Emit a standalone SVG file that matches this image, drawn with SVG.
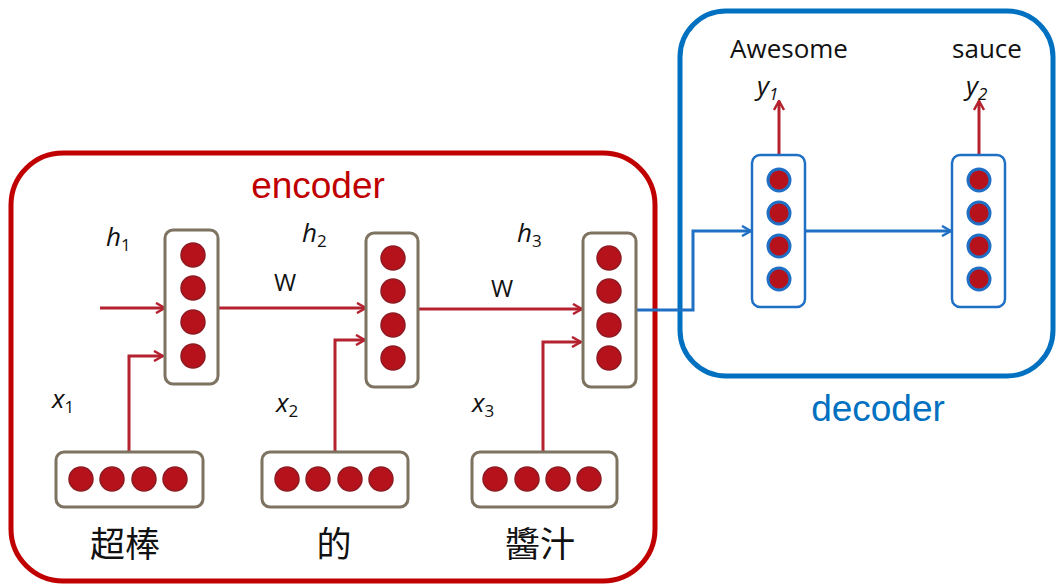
<svg xmlns="http://www.w3.org/2000/svg" width="1056" height="586" viewBox="0 0 1056 586">
<defs>
<style>
.frame{fill:none;stroke-width:5}
.hbox{fill:#fff;stroke:#7d7360;stroke-width:3}
.dbox{fill:#fff;stroke:#1f6fc4;stroke-width:2.5}
.c{fill:#b5121b;stroke:#8e1b22;stroke-width:1.5}
.dc{fill:#b5121b;stroke:#1f6fc4;stroke-width:3}
.rl{fill:none;stroke:#b3222e;stroke-width:3;marker-end:url(#ra)}
.bl{fill:none;stroke:#1f6fc4;stroke-width:3;marker-end:url(#ba)}
.lbl{font-family:"Open Sans","Liberation Sans",sans-serif;fill:#111}
.it{font-family:"Open Sans","Liberation Sans",sans-serif;font-style:italic;fill:#111;font-size:26px}
.zh{font-family:"Noto Sans CJK TC","Noto Sans CJK SC",sans-serif;font-size:35px;fill:#111;text-anchor:middle}
</style>
<marker id="ra" viewBox="0 0 12 12" refX="11" refY="6" markerWidth="12" markerHeight="12" markerUnits="userSpaceOnUse" orient="auto">
<path d="M2,1 L11,6 L2,11" fill="none" stroke="#b3222e" stroke-width="2.5"/>
</marker>
<marker id="ba" viewBox="0 0 12 12" refX="11" refY="6" markerWidth="12" markerHeight="12" markerUnits="userSpaceOnUse" orient="auto">
<path d="M2,1 L11,6 L2,11" fill="none" stroke="#1f6fc4" stroke-width="2.5"/>
</marker>
</defs>
<rect width="1056" height="586" fill="#fff"/>

<g id="encoder-frame">
<rect class="frame" x="11" y="153" width="644" height="428" rx="52" stroke="#c00000"/>
<text x="318" y="198" font-family="Liberation Sans, Arial, sans-serif" font-size="37" fill="#c00000" text-anchor="middle">encoder</text>
</g>
<g id="decoder-frame">
<rect class="frame" x="680" y="11" width="373" height="365" rx="46" stroke="#0070c0"/>
<text x="878" y="421" font-family="Liberation Sans, Arial, sans-serif" font-size="37" fill="#0070c0" text-anchor="middle">decoder</text>
</g>

<g id="connectors">
<path class="rl" d="M100,308 H165"/>
<path class="rl" d="M129,452 V356 H163"/>
<path class="rl" d="M219,308 H366"/>
<path class="rl" d="M335,452 V340 H365"/>
<path class="rl" d="M418,309 H582"/>
<path class="rl" d="M543,452 V342 H581"/>
<path class="bl" d="M636,310 H693 V231 H751"/>
<path class="bl" d="M805,231 H951"/>
<path class="rl" d="M779,155 V101"/>
<path class="rl" d="M979,155 V101"/>
<text class="lbl" x="274" y="291" font-size="24">W</text>
<text class="lbl" x="491" y="297" font-size="24">W</text>
</g>

<g id="h1">
<rect class="hbox" x="165" y="230" width="53" height="154" rx="8"/>
<circle class="c" cx="193" cy="255" r="12"/><circle class="c" cx="193" cy="288" r="12"/><circle class="c" cx="193" cy="322" r="12"/><circle class="c" cx="193" cy="356" r="12"/>
<text class="it" x="106" y="246">h<tspan font-size="17" font-style="normal" dy="5">1</tspan></text>
</g>
<g id="h2">
<rect class="hbox" x="366" y="233" width="52" height="154" rx="8"/>
<circle class="c" cx="393" cy="258" r="12"/><circle class="c" cx="393" cy="291" r="12"/><circle class="c" cx="393" cy="325" r="12"/><circle class="c" cx="393" cy="358" r="12"/>
<text class="it" x="302" y="242">h<tspan font-size="17" font-style="normal" dy="5">2</tspan></text>
</g>
<g id="h3">
<rect class="hbox" x="583" y="233" width="53" height="154" rx="8"/>
<circle class="c" cx="609" cy="258" r="12"/><circle class="c" cx="609" cy="291" r="12"/><circle class="c" cx="609" cy="325" r="12"/><circle class="c" cx="609" cy="358" r="12"/>
<text class="it" x="517" y="242">h<tspan font-size="17" font-style="normal" dy="5">3</tspan></text>
</g>

<g id="x1">
<rect class="hbox" x="56" y="452" width="147" height="55" rx="8"/>
<circle class="c" cx="81" cy="479" r="12"/><circle class="c" cx="112" cy="479" r="12"/><circle class="c" cx="144" cy="479" r="12"/><circle class="c" cx="175" cy="479" r="12"/>
<text class="it" x="52" y="408">x<tspan font-size="17" font-style="normal" dy="5">1</tspan></text>
<text class="zh" x="125" y="557">超棒</text>
</g>
<g id="x2">
<rect class="hbox" x="262" y="452" width="146" height="55" rx="8"/>
<circle class="c" cx="287" cy="479" r="12"/><circle class="c" cx="318" cy="479" r="12"/><circle class="c" cx="350" cy="479" r="12"/><circle class="c" cx="381" cy="479" r="12"/>
<text class="it" x="276" y="412">x<tspan font-size="17" font-style="normal" dy="5">2</tspan></text>
<text class="zh" x="334" y="557">的</text>
</g>
<g id="x3">
<rect class="hbox" x="472" y="452" width="145" height="55" rx="8"/>
<circle class="c" cx="495" cy="479" r="12"/><circle class="c" cx="527" cy="479" r="12"/><circle class="c" cx="558" cy="479" r="12"/><circle class="c" cx="589" cy="479" r="12"/>
<text class="it" x="472" y="412">x<tspan font-size="17" font-style="normal" dy="5">3</tspan></text>
<text class="zh" x="540" y="557">醬汁</text>
</g>

<g id="y1">
<rect class="dbox" x="752" y="155" width="53" height="152" rx="8"/>
<circle class="dc" cx="779" cy="180" r="11"/><circle class="dc" cx="779" cy="213" r="11"/><circle class="dc" cx="779" cy="246" r="11"/><circle class="dc" cx="779" cy="279" r="11"/>
<text class="it" x="757" y="95">y<tspan font-size="17" dy="5">1</tspan></text>
<text class="lbl" x="789" y="58" font-size="26" text-anchor="middle">Awesome</text>
</g>
<g id="y2">
<rect class="dbox" x="952" y="155" width="53" height="152" rx="8"/>
<circle class="dc" cx="979" cy="180" r="11"/><circle class="dc" cx="979" cy="213" r="11"/><circle class="dc" cx="979" cy="246" r="11"/><circle class="dc" cx="979" cy="279" r="11"/>
<text class="it" x="966" y="95">y<tspan font-size="17" dy="5">2</tspan></text>
<text class="lbl" x="987" y="58" font-size="26" text-anchor="middle">sauce</text>
</g>
</svg>
